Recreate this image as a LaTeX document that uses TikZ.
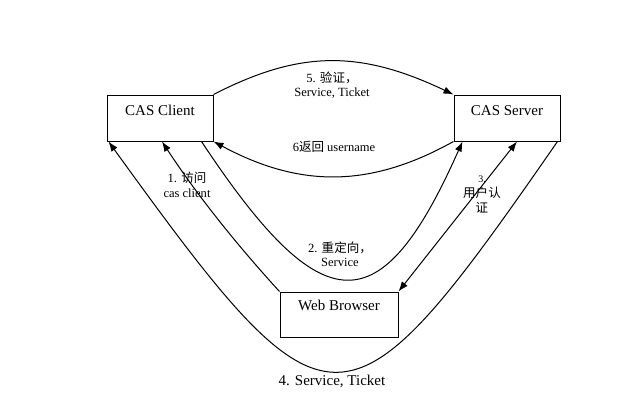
\documentclass[tikz,border=0pt]{standalone}
\usepackage{fontspec}
\setmainfont{Liberation Serif}
\newfontfamily\cjk{Noto Sans CJK SC}
\usetikzlibrary{arrows.meta,calc}
\begin{document}
\begin{tikzpicture}[x=0.75pt,y=-0.75pt,
  box/.style={draw,line width=0.75pt,inner sep=0pt,font=\fontsize{11.25}{13}\selectfont},
  lbl/.style={inner sep=0pt,align=center,font=\fontsize{9.4}{10.8}\selectfont},
  conn/.style={line width=0.75pt},
  tip/.style={Latex[length=7.5pt,width=5.5pt]},
  arr/.style={conn,-{Latex[length=7.5pt,width=5.5pt]}},
  darr/.style={conn,{Latex[length=7.5pt,width=5.5pt]}-{Latex[length=7.5pt,width=5.5pt]}}]
\fill[white] (0,0) rectangle (619,412);
\useasboundingbox (0,0) rectangle (619,412);
% boxes
\node[box,minimum width=79.5pt,text height=15pt,text depth=19.5pt] (client) at (160,118) {CAS Client};
\node[box,minimum width=79.5pt,text height=15pt,text depth=19.5pt] (server) at (507,118) {CAS Server};
\node[box,minimum width=88.5pt,text height=13.5pt,text depth=20.25pt] (browser) at (339,314.5) {Web Browser};
% connectors
\draw[arr] (client.north east) .. controls (300,50) and (360,50) .. (server.north west);
\draw[arr] (server.south west) .. controls (370,188) and (300,188) .. (client.south east);
\draw[arr] (browser.north west) .. controls (237,245) and (197,195) .. ($(client.south)+(2,0)$);
\draw[arr] ($(client.south east)+(-12,0)$) .. controls (323,325) and (381,325) .. ($(server.south west)+(9,0)$);
\draw[darr] (browser.north east) -- ($(server.south)+(10,0)$);
\draw[arr] ($(server.south east)+(-3,0)$) .. controls (345,448) and (330,448) .. ($(client.south west)+(2,0)$);
% labels
\node[lbl] (l5) at (332,85) {5. {\cjk 验证，}\\Service, Ticket};
\node[lbl] (l6) at (334,147) {6{\cjk 返回} username};
\node[lbl] (l1) at (187,185) {1. {\cjk 访问}\\cas client};
\node[lbl] (l2) at (340,254) {2. {\cjk 重定向，}\\Service};
\node[lbl] (l3a) at (482,179) {\fontsize{7.5}{9}\selectfont 3.};
\node[lbl] (l3) at (482,200) {{\cjk 用户认}\\{\cjk 证}};
\node[lbl,font=\fontsize{11.25}{13}\selectfont] (l4) at (332,381) {4. Service, Ticket};
\end{tikzpicture}
\end{document}
